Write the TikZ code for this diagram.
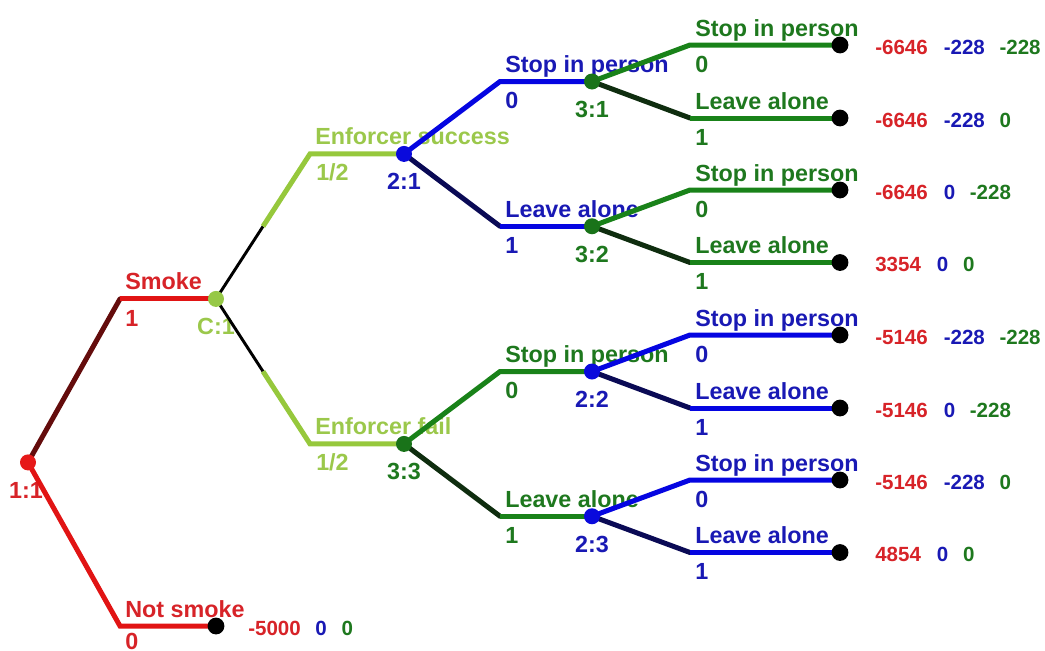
\documentclass[tikz,border=0pt]{standalone}
\usepackage{fontspec}
\setmainfont{Liberation Sans}
\usetikzlibrary{calc}
% text colours
\definecolor{tred}{RGB}{215,35,40}
\definecolor{tblue}{RGB}{25,25,180}
\definecolor{tgreen}{RGB}{30,120,30}
\definecolor{tlgreen}{RGB}{155,200,75}
% branch colours
\definecolor{lred}{RGB}{225,20,20}
\definecolor{lmaroon}{RGB}{100,12,12}
\definecolor{llg}{RGB}{150,200,60}
\definecolor{lgreen}{RGB}{25,130,25}
\definecolor{ldgreen}{RGB}{15,45,15}
\definecolor{lblue}{RGB}{5,5,225}
\definecolor{lnavy}{RGB}{10,10,85}
% decision node colours
\definecolor{dred}{RGB}{230,25,25}
\definecolor{dlg}{RGB}{150,200,70}
\definecolor{dblue}{RGB}{10,10,220}
\definecolor{dgreen}{RGB}{25,115,25}
\begin{document}
\begin{tikzpicture}[x=0.75pt,y=-0.75pt,
  lbl/.style={inner sep=0pt,anchor=base west,font=\fontsize{17.5}{20}\selectfont\bfseries},
  nlbl/.style={inner sep=0pt,anchor=base,font=\fontsize{17.5}{20}\selectfont\bfseries},
  pay/.style={inner sep=0pt,anchor=base west,font=\fontsize{15.4}{18}\selectfont\bfseries},
  br/.style={line width=3.75pt},
  rbr/.style={line width=3.75pt,line cap=round},
  thn/.style={line width=2.2pt,black}]
\useasboundingbox (0,0) rectangle (1045,650);

% ---- decision / chance nodes ----
\coordinate (n11) at (28,462.4);
\coordinate (c1)  at (216,298.9);
\coordinate (n21) at (404,153.9);
\coordinate (n33) at (404,443.9);
\coordinate (n31) at (592,81.5);
\coordinate (n32) at (592,226.25);
\coordinate (n22) at (592,371.5);
\coordinate (n23) at (592,516.25);
% ---- terminal nodes ----
\coordinate (t0) at (216,626);
\coordinate (t1) at (840,45);
\coordinate (t2) at (840,118);
\coordinate (t3) at (840,190);
\coordinate (t4) at (840,262.5);
\coordinate (t5) at (840,335);
\coordinate (t6) at (840,408);
\coordinate (t7) at (840,480);
\coordinate (t8) at (840,552.5);
% ---- branch elbows ----
\coordinate (k1) at (120,298.9);
\coordinate (k0) at (120,626);
\coordinate (kES) at (310,153.9);
\coordinate (kEF) at (310,443.9);
\coordinate (kA) at (500,81.5);
\coordinate (kB) at (500,226.25);
\coordinate (kC) at (500,371.5);
\coordinate (kD) at (500,516.25);
\coordinate (m1) at (690,45);
\coordinate (m2) at (690,118);
\coordinate (m3) at (690,190);
\coordinate (m4) at (690,262.5);
\coordinate (m5) at (690,335);
\coordinate (m6) at (690,408);
\coordinate (m7) at (690,480);
\coordinate (m8) at (690,552.5);

% ---- action labels and probabilities ----
\node[lbl,text=tred] (aSmoke) at ($(k1)+(5,-9)$) {Smoke};
\node[lbl,text=tred] (pSmoke) at ($(k1)+(5,28)$) {1};
\node[lbl,text=tred] (aNot) at ($(k0)+(5,-9)$) {Not smoke};
\node[lbl,text=tred] (pNot) at ($(k0)+(5,23)$) {0};

\node[lbl,text=tlgreen] (aES) at ($(kES)+(5,-9)$) {Enforcer success};
\node[lbl,text=tlgreen] (pES) at ($(kES)+(6,27)$) {1/2};
\node[lbl,text=tlgreen] (aEF) at ($(kEF)+(5,-9)$) {Enforcer fail};
\node[lbl,text=tlgreen] (pEF) at ($(kEF)+(6,27)$) {1/2};

\node[lbl,text=tblue] (aA) at ($(kA)+(5,-9)$) {Stop in person};
\node[lbl,text=tblue] (pA) at ($(kA)+(5,27)$) {0};
\node[lbl,text=tblue] (aB) at ($(kB)+(5,-9)$) {Leave alone};
\node[lbl,text=tblue] (pB) at ($(kB)+(5,27)$) {1};
\node[lbl,text=tgreen] (aC) at ($(kC)+(5,-9)$) {Stop in person};
\node[lbl,text=tgreen] (pC) at ($(kC)+(5,27)$) {0};
\node[lbl,text=tgreen] (aD) at ($(kD)+(5,-9)$) {Leave alone};
\node[lbl,text=tgreen] (pD) at ($(kD)+(5,27)$) {1};

\node[lbl,text=tgreen] (a1) at ($(m1)+(5,-9)$) {Stop in person};
\node[lbl,text=tgreen] (p1) at ($(m1)+(5,27)$) {0};
\node[lbl,text=tgreen] (a2) at ($(m2)+(5,-9)$) {Leave alone};
\node[lbl,text=tgreen] (p2) at ($(m2)+(5,27)$) {1};
\node[lbl,text=tgreen] (a3) at ($(m3)+(5,-9)$) {Stop in person};
\node[lbl,text=tgreen] (p3) at ($(m3)+(5,27)$) {0};
\node[lbl,text=tgreen] (a4) at ($(m4)+(5,-9)$) {Leave alone};
\node[lbl,text=tgreen] (p4) at ($(m4)+(5,27)$) {1};
\node[lbl,text=tblue] (a5) at ($(m5)+(5,-9)$) {Stop in person};
\node[lbl,text=tblue] (p5) at ($(m5)+(5,27)$) {0};
\node[lbl,text=tblue] (a6) at ($(m6)+(5,-9)$) {Leave alone};
\node[lbl,text=tblue] (p6) at ($(m6)+(5,27)$) {1};
\node[lbl,text=tblue] (a7) at ($(m7)+(5,-9)$) {Stop in person};
\node[lbl,text=tblue] (p7) at ($(m7)+(5,27)$) {0};
\node[lbl,text=tblue] (a8) at ($(m8)+(5,-9)$) {Leave alone};
\node[lbl,text=tblue] (p8) at ($(m8)+(5,27)$) {1};

% ---- node labels ----
\node[nlbl,text=tred] (l11) at ($(n11)+(-2,36)$) {1:1};
\node[nlbl,text=tlgreen] (lc1) at ($(c1)+(0,36)$) {C:1};
\node[nlbl,text=tblue] (l21) at ($(n21)+(0,36)$) {2:1};
\node[nlbl,text=tgreen] (l33) at ($(n33)+(0,36)$) {3:3};
\node[nlbl,text=tgreen] (l31) at ($(n31)+(0,36)$) {3:1};
\node[nlbl,text=tgreen] (l32) at ($(n32)+(0,36)$) {3:2};
\node[nlbl,text=tblue] (l22) at ($(n22)+(0,36)$) {2:2};
\node[nlbl,text=tblue] (l23) at ($(n23)+(0,36)$) {2:3};

% ---- payoffs ----
\node[pay] (v0) at ($(t0)+(32,9)$) {\textcolor{tred}{-5000}\hspace{11pt}\textcolor{tblue}{0}\hspace{11pt}\textcolor{tgreen}{0}};
\node[pay] (v1) at ($(t1)+(35,9)$) {\textcolor{tred}{-6646}\hspace{12pt}\textcolor{tblue}{-228}\hspace{11pt}\textcolor{tgreen}{-228}};
\node[pay] (v2) at ($(t2)+(35,9)$) {\textcolor{tred}{-6646}\hspace{12pt}\textcolor{tblue}{-228}\hspace{11pt}\textcolor{tgreen}{0}};
\node[pay] (v3) at ($(t3)+(35,9)$) {\textcolor{tred}{-6646}\hspace{12pt}\textcolor{tblue}{0}\hspace{11pt}\textcolor{tgreen}{-228}};
\node[pay] (v4) at ($(t4)+(35,9)$) {\textcolor{tred}{3354}\hspace{12pt}\textcolor{tblue}{0}\hspace{11pt}\textcolor{tgreen}{0}};
\node[pay] (v5) at ($(t5)+(35,9)$) {\textcolor{tred}{-5146}\hspace{12pt}\textcolor{tblue}{-228}\hspace{11pt}\textcolor{tgreen}{-228}};
\node[pay] (v6) at ($(t6)+(35,9)$) {\textcolor{tred}{-5146}\hspace{12pt}\textcolor{tblue}{0}\hspace{11pt}\textcolor{tgreen}{-228}};
\node[pay] (v7) at ($(t7)+(35,9)$) {\textcolor{tred}{-5146}\hspace{12pt}\textcolor{tblue}{-228}\hspace{11pt}\textcolor{tgreen}{0}};
\node[pay] (v8) at ($(t8)+(35,9)$) {\textcolor{tred}{4854}\hspace{12pt}\textcolor{tblue}{0}\hspace{11pt}\textcolor{tgreen}{0}};

% ---- branches: player 1 ----
\draw[rbr,lmaroon] (n11) -- (k1);
\draw[br,lred] (k1) -- (c1);
\draw[br,lred] (n11) -- (k0) -- (t0);
% ---- chance branches ----
\draw[thn] (c1) -- ($(c1)!.5!(kES)$) coordinate (hES);
\draw[br,llg] (hES) -- (kES) -- (n21);
\draw[thn] (c1) -- ($(c1)!.5!(kEF)$) coordinate (hEF);
\draw[br,llg] (hEF) -- (kEF) -- (n33);
% ---- player 2 at 2:1, player 3 at 3:3 ----
\draw[br,lblue] (n21) -- (kA) -- (n31);
\draw[rbr,lnavy] (n21) -- (kB);
\draw[br,lblue] (kB) -- (n32);
\draw[br,lgreen] (n33) -- (kC) -- (n22);
\draw[rbr,ldgreen] (n33) -- (kD);
\draw[br,lgreen] (kD) -- (n23);
% ---- last moves ----
\draw[br,lgreen] (n31) -- (m1) -- (t1);
\draw[rbr,ldgreen] (n31) -- (m2);
\draw[br,lgreen] (m2) -- (t2);
\draw[br,lgreen] (n32) -- (m3) -- (t3);
\draw[rbr,ldgreen] (n32) -- (m4);
\draw[br,lgreen] (m4) -- (t4);
\draw[br,lblue] (n22) -- (m5) -- (t5);
\draw[rbr,lnavy] (n22) -- (m6);
\draw[br,lblue] (m6) -- (t6);
\draw[br,lblue] (n23) -- (m7) -- (t7);
\draw[rbr,lnavy] (n23) -- (m8);
\draw[br,lblue] (m8) -- (t8);

% ---- node dots ----
\fill[dred] (n11) circle (6pt);
\fill[dlg] (c1) circle (6pt);
\fill[dblue] (n21) circle (6pt);
\fill[dgreen] (n33) circle (6pt);
\fill[dgreen] (n31) circle (6pt);
\fill[dgreen] (n32) circle (6pt);
\fill[dblue] (n22) circle (6pt);
\fill[dblue] (n23) circle (6pt);
\foreach \t in {t0,t1,t2,t3,t4,t5,t6,t7,t8}
  \fill[black] (\t) circle (6.3pt);
\end{tikzpicture}
\end{document}
